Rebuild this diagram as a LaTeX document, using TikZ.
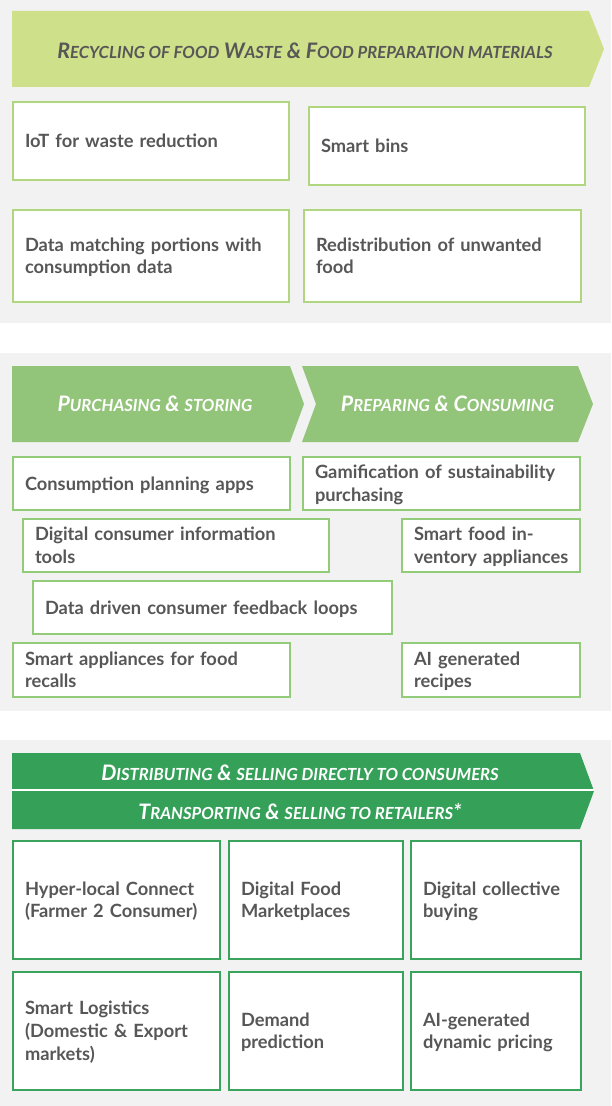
\documentclass[tikz,border=0pt]{standalone}
\usepackage{fontspec}
\setmainfont{Lato}
\hyphenpenalty=10000

\definecolor{txtgrey}{RGB}{87,87,87}
\definecolor{panelgrey}{RGB}{242,242,242}
\definecolor{limegreen}{RGB}{206,224,138}
\definecolor{limeline}{RGB}{176,214,128}
\definecolor{midgreen}{RGB}{146,196,121}
\definecolor{midline}{RGB}{146,204,120}
\definecolor{darkgreen}{RGB}{52,160,88}
\definecolor{darkline}{RGB}{58,164,92}

% fake small capitals
\newcommand\smc[1]{{\fontsize{12.5}{15}\selectfont\MakeUppercase{#1}}}

\tikzset{every picture/.style={line width=0.75pt}}
\tikzset{
  item/.style={draw=#1, fill=white, line width=1.5, text=txtgrey,
    font=\fontsize{13.7}{17}\selectfont\bfseries, align=left,
    inner xsep=9pt, inner ysep=0pt, text height=9.8pt, text depth=0pt,
    anchor=north west},
  box/.style 2 args={text width=#1, minimum height=#2},
  l2/.style={text depth=17pt},
  l3/.style={text depth=34pt},
  title/.style={font=\fontsize{16}{19}\selectfont\bfseries\itshape, anchor=base, inner sep=0pt},
}

\begin{document}
\begin{tikzpicture}[x=0.75pt,y=0.75pt,yscale=-1,xscale=1]
\useasboundingbox (0,0) rectangle (611,1106);

%Shape: Panel backgrounds
\fill [panelgrey] (0,0) rectangle (611,323);
\fill [panelgrey] (0,353) rectangle (611,711);
\fill [panelgrey] (0,740) rectangle (611,1106);

%Shape: Chevron recycling
\fill [limegreen] (12,11) -- (589,11) -- (604,49) -- (589,87) -- (12,87) -- cycle;
%Shape: Chevron purchasing
\fill [midgreen] (12,366) -- (290,366) -- (304,404) -- (290,442) -- (12,442) -- cycle;
%Shape: Chevron preparing
\fill [midgreen] (302,366) -- (578,366) -- (593,404) -- (578,442) -- (302,442) -- (316,404) -- cycle;
%Shape: Chevron distributing / transporting
\fill [darkgreen] (12,753) -- (580,753) -- (594,791) -- (580,829) -- (12,829) -- cycle;
\draw [white, line width=1.5] (12,790) -- (593.6,790);

% Text Node
\node [title, text=txtgrey] (recyc) at (305,58.3) {R\smc{ecycling of food} W\smc{aste} \& F\smc{ood preparation materials}};
% Text Node
\node [title, text=white] (purch) at (155,411.7) {P\smc{urchasing} \& \smc{storing}};
% Text Node
\node [title, text=white] (prep) at (447.5,411.7) {P\smc{reparing} \& C\smc{onsuming}};
% Text Node
\node [title, text=white] (distr) at (300,780.7) {D\smc{istributing} \& \smc{selling directly to consumers}};
% Text Node
\node [title, text=white] (transp) at (300,819.3) {T\smc{ransporting} \& \smc{selling to retailers}*};

%Boxes: recycling
\node [item=limeline, box={189pt}{58.5pt}] (iot) at (12,101) {IoT for waste reduction};
\node [item=limeline, box={189pt}{58.5pt}] (bins) at (308,106) {Smart bins};
\node [item=limeline, box={189pt}{69pt}, l2] (match) at (12,209) {Data matching portions with\\consumption data};
\node [item=limeline, box={189.75pt}{69pt}, l2] (redis) at (303,209) {Redistribution of unwanted\\food};

%Boxes: purchasing and preparing
\node [item=midline, box={189.75pt}{39.75pt}] (plan) at (12,456) {Consumption planning apps};
\node [item=midline, box={189.75pt}{39.75pt}, l2] (game) at (302,456) {\mbox{Gamification of sustainability}\\purchasing};
\node [item=midline, box={211.5pt}{39.75pt}, l2] (info) at (22,518) {Digital consumer information\\tools};
\node [item=midline, box={115.5pt}{39.75pt}, l2] (inv) at (401,518) {Smart food in-\\\mbox{ventory appliances}};
\node [item=midline, box={251.25pt}{39.75pt}] (driven) at (32,580) {Data driven consumer feedback loops};
\node [item=midline, box={189.75pt}{40.5pt}, l2] (recall) at (12,642) {Smart appliances for food\\recalls};
\node [item=midline, box={115.5pt}{40.5pt}, l2] (recipe) at (401,642) {AI generated\\recipes};

%Boxes: distributing and transporting
\node [item=darkline, box={137.25pt}{88.5pt}, l2] (hyper) at (12,840) {Hyper-local Connect\\\mbox{(Farmer 2 Consumer)}};
\node [item=darkline, box={112.5pt}{88.5pt}, l2] (market) at (228,840) {Digital Food\\Marketplaces};
\node [item=darkline, box={109.5pt}{88.5pt}, l2] (collect) at (410,840) {Digital collective\\buying};
\node [item=darkline, box={137.25pt}{88.5pt}, l3] (logist) at (12,971) {Smart Logistics\\(Domestic \& Export\\markets)};
\node [item=darkline, box={112.5pt}{88.5pt}, l2] (demand) at (228,971) {Demand\\prediction};
\node [item=darkline, box={109.5pt}{88.5pt}, l2] (price) at (410,971) {AI-generated\\dynamic pricing};

\end{tikzpicture}
\end{document}
